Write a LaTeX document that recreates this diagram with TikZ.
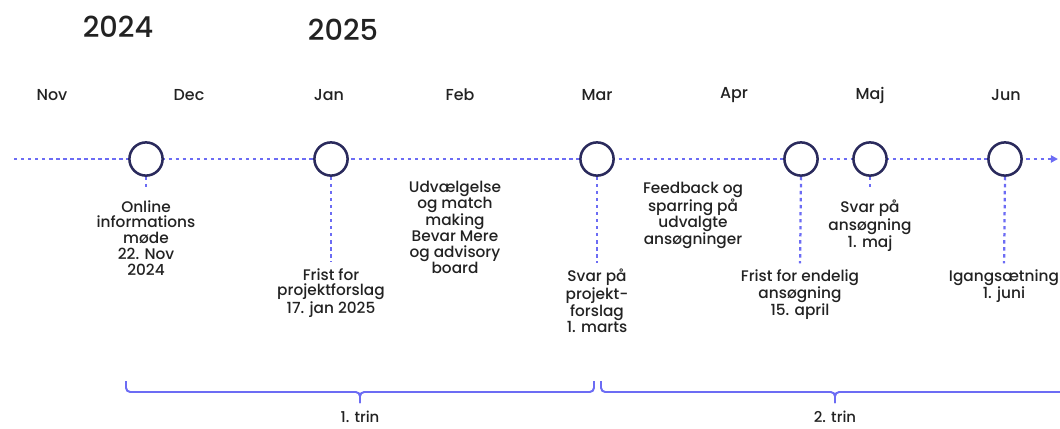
\documentclass[tikz,border=0pt]{standalone}
\usepackage{fontspec}
\setmainfont{Poppins}[UprightFont={* Medium}]
\usetikzlibrary{arrows.meta}
\definecolor{tlblue}{HTML}{6C6CF4}
\definecolor{tlnavy}{HTML}{2A2A5C}
\definecolor{tltext}{HTML}{222222}
\def\trinbrace[#1](#2:#3:#4){\draw[#1] (#2,381) -- (#2,392) -- (#4,392) -- (#4,403); \draw[#1] (#3,381) -- (#3,392) -- (#4,392) -- (#4,403);}
\tikzset{
	milestone/.style={circle, draw=tlnavy, line width=1.8pt, fill=white, minimum size=0.83cm, inner sep=0pt},
	dotline/.style={tlblue, line width=1.6pt, dash pattern=on 2.4pt off 2.6pt},
	bracestyle/.style={tlblue, line width=1.4pt, rounded corners=3pt},
	event/.style={align=center, anchor=north, inner sep=0pt, text=tltext, font=\fontsize{10.9}{11.2}\selectfont},
	month/.style={text=tltext, font=\fontsize{11.3}{12}\selectfont},
	trinlabel/.style={text=tltext, inner sep=0pt, font=\fontsize{10.6}{12}\selectfont},
	year/.style={text=tltext, font=\fontsize{20.5}{22}\selectfont}
}

\begin{document}
\begin{tikzpicture}[x=0.025cm, y=-0.025cm]
			%%%%% START %%%%%
			\useasboundingbox (0,0) rectangle (1060,428);
			\clip (0,0) rectangle (1060,428);
			
			\node[year] (y2024) at (118,27) {2024};
			\node[year] (y2025) at (343,30) {2025};
			
			\node[month] (nov) at (52,95) {Nov};
			\node[month] (dec) at (189,95) {Dec};
			\node[month] (jan) at (329,95) {Jan};
			\node[month] (feb) at (460,95) {Feb};
			\node[month] (mar) at (597,95) {Mar};
			\node[month] (apr) at (734,95) {Apr};
			\node[month] (maj) at (870,95) {Maj};
			\node[month] (jun) at (1006,95) {Jun};
			
			% timeline
			\coordinate (tstart) at (14,159);
			\coordinate (tend) at (1058,159);
			\draw[dotline, -{Triangle[length=5pt,width=5pt]}] (tstart) -- (tend);
			
			\node[milestone] (m1) at (146,159) {};
			\node[milestone] (m2) at (331,159) {};
			\node[milestone] (m3) at (597,159) {};
			\node[milestone] (m4) at (801,159) {};
			\node[milestone] (m5) at (870,159) {};
			\node[milestone] (m6) at (1005,159) {};
			
			\node[event] (e1) at (146,200) {Online\\informations\\møde\\22. Nov\\2024};
			\node[event] (e2) at (331,268) {Frist for\\projektforslag\\17. jan 2025};
			\node[event] (efeb) at (455,181) {Udvælgelse\\og match\\making\\Bevar Mere\\og advisory\\board};
			\node[event] (e3) at (597,269) {Svar på\\projekt-\\forslag\\1. marts};
			\node[event] (eapr) at (693,182) {Feedback og\\sparring på\\udvalgte\\ansøgninger};
			\node[event] (e4) at (800,269) {Frist for endelig\\ansøgning\\15. april};
			\node[event] (e5) at (870,200) {Svar på\\ansøgning\\1. maj};
			\node[event] (e6) at (1004,269) {Igangsætning\\1. juni};
			
			\draw[dotline, shorten >=9pt] (m1.south) -- (e1.north);
			\draw[dotline, shorten >=4pt] (m2.south) -- (e2.north);
			\draw[dotline, shorten >=4pt] (m3.south) -- (e3.north);
			\draw[dotline, shorten >=4pt] (m4.south) -- (e4.north);
			\draw[dotline, shorten >=9pt] (m5.south) -- (e5.north);
			\draw[dotline, shorten >=4pt] (m6.south) -- (e6.north);
			
			% trin
			\trinbrace[bracestyle](126:594:360)
			\trinbrace[bracestyle](601:1069:835)
			\node[trinlabel] (trin1) at (360,417) {1. trin};
			\node[trinlabel] (trin2) at (835,417) {2. trin};
			
			%%%%% END %%%%%
\end{tikzpicture}
\end{document}
